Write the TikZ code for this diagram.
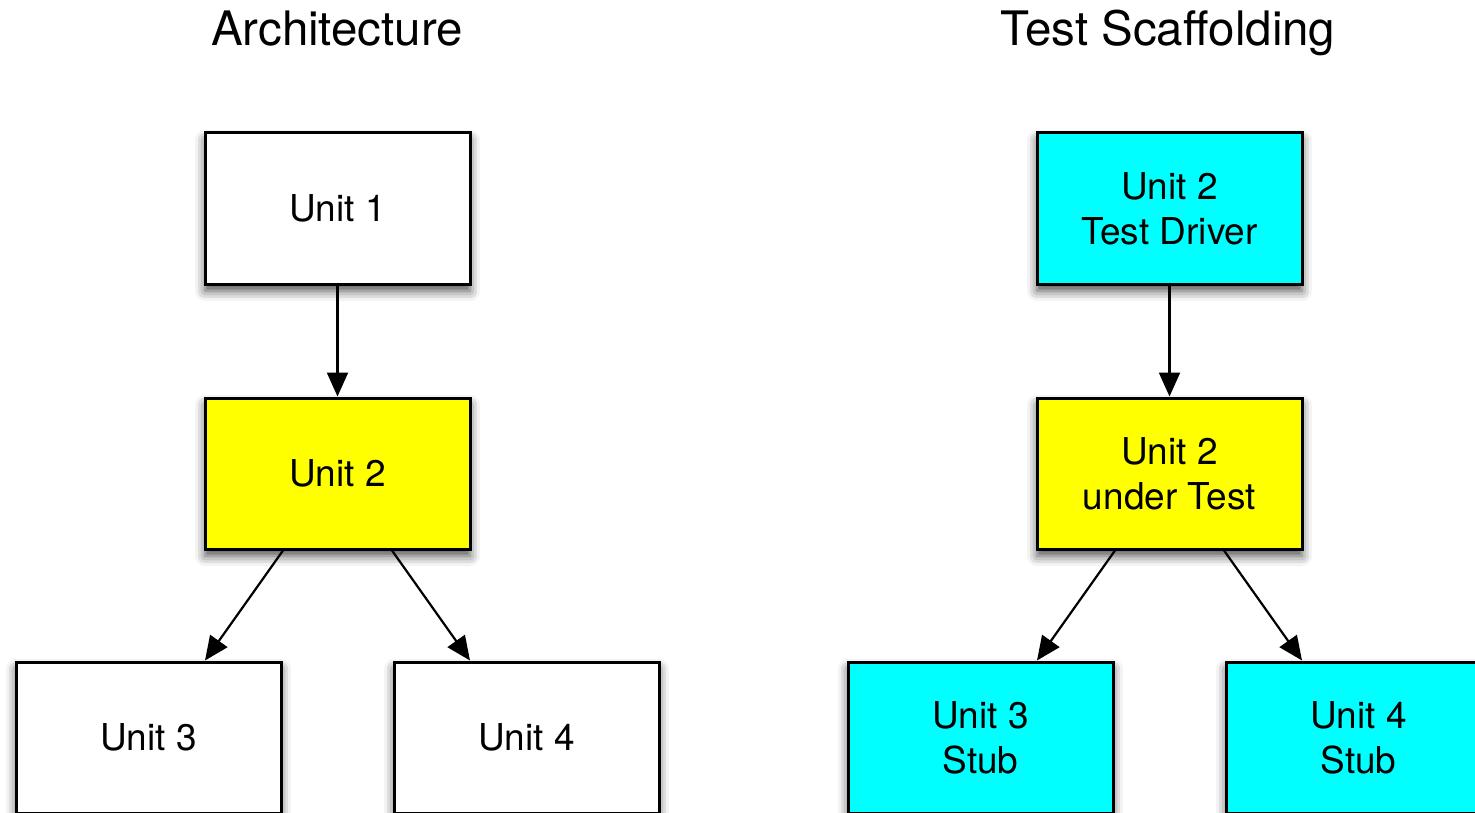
\documentclass[tikz,border=0pt]{standalone}
\usepackage{fontspec}
\setmainfont{TeX Gyre Heros}
\usetikzlibrary{arrows.meta,shadows.blur}
\definecolor{unitcyan}{RGB}{0,255,255}
\definecolor{unityellow}{RGB}{255,255,0}
\tikzset{
  unitbox/.style={draw=black, line width=3pt, fill=white,
    minimum width=265pt, minimum height=151pt, inner sep=0pt,
    align=center, font=\fontsize{37}{45}\selectfont,
    blur shadow={shadow xshift=0pt, shadow yshift=-7pt,
      shadow blur radius=10pt, shadow opacity=70}},
  titletext/.style={font=\fontsize{47.5}{56}\selectfont, anchor=base},
  arr/.style={-{Triangle[length=24pt,width=21pt]}, line width=2.2pt}
}
\begin{document}
\begin{tikzpicture}[x=1pt,y=-1pt]
\useasboundingbox (0,0) rectangle (1475,813);
\clip (0,0) rectangle (1475,813);

% Titles
\node[titletext] (tarch) at (337,46) {Architecture};
\node[titletext] (tscaf) at (1168,46) {Test Scaffolding};

% Architecture tree
\node[unitbox] (a1) at (337.5,208.5) {Unit 1};
\node[unitbox, fill=unityellow] (a2) at (337.5,473.5) {Unit 2};
\node[unitbox] (a3) at (148.5,737.5) {Unit 3};
\node[unitbox] (a4) at (526.5,737.5) {Unit 4};

\draw[arr] (a1.south) -- (a2.north);
\draw[arr] ([xshift=-54.5pt]a2.south) -- ([xshift=56.5pt]a3.north);
\draw[arr] ([xshift=54.5pt]a2.south) -- ([xshift=-56.5pt]a4.north);

% Test scaffolding tree
\node[unitbox, fill=unitcyan] (s1) at (1169.5,208.5) {Unit 2\\Test Driver};
\node[unitbox, fill=unityellow] (s2) at (1169.5,473.5) {Unit 2\\under Test};
\node[unitbox, fill=unitcyan] (s3) at (980.5,737.5) {Unit 3\\Stub};
\node[unitbox, fill=unitcyan] (s4) at (1358.5,737.5) {Unit 4\\Stub};

\draw[arr] (s1.south) -- (s2.north);
\draw[arr] ([xshift=-54.5pt]s2.south) -- ([xshift=56.5pt]s3.north);
\draw[arr] ([xshift=54.5pt]s2.south) -- ([xshift=-56.5pt]s4.north);
\end{tikzpicture}
\end{document}
